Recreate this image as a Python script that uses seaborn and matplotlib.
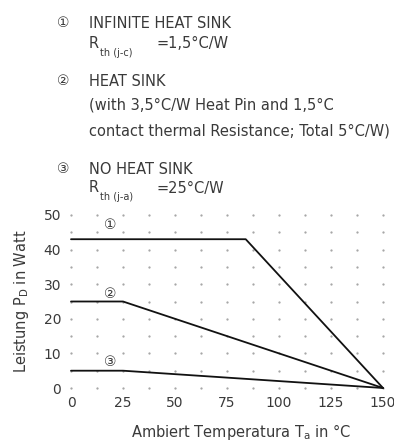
import numpy as np
import pandas as pd
import seaborn as sns
from matplotlib import pyplot as plt

# derating curves (ambient temperature in °C, power in W)
temps_1 = [0, 84, 150]
power_1 = [43, 43, 0]
temps_2 = [0, 25, 150]
power_2 = [25, 25, 0]
temps_3 = [0, 25, 150]
power_3 = [5, 5, 0]
curve_names = ['①', '②', '③']

x_ticks = [0, 25, 50, 75, 100, 125, 150]
y_ticks = [0, 10, 20, 30, 40, 50]

sns.set_theme(style='white')
plt.rcParams['font.family'] = ['DejaVu Sans', 'Noto Sans CJK SC']
txt = '#3a3a3a'

df = pd.concat([
    pd.DataFrame({'T': temps_1, 'P': power_1, 'curve': curve_names[0]}),
    pd.DataFrame({'T': temps_2, 'P': power_2, 'curve': curve_names[1]}),
    pd.DataFrame({'T': temps_3, 'P': power_3, 'curve': curve_names[2]}),
])

fig = plt.figure(figsize=(3.94, 4.43), dpi=100)
ax = fig.add_axes([71 / 394, 1 - 388 / 443, 312 / 394, 173 / 443])

# dotted grid: dots at the grid intersections
gx, gy = np.meshgrid(np.arange(0, 151, 12.5), np.arange(0, 51, 5))
ax.plot(gx.ravel(), gy.ravel(), ls='none', marker='.', ms=1.2, color='#a0a0a0', zorder=1)

sns.lineplot(data=df, x='T', y='P', hue='curve', palette=['#111111'] * 3,
             linewidth=1.3, legend=False, sort=False, estimator=None, ax=ax)
for line in ax.get_lines():
    line.set_clip_on(False)

# curve numbers above the flat part
ax.text(18.7, 47.2, '①', ha='center', va='center', fontsize=10, color=txt)
ax.text(18.7, 27.3, '②', ha='center', va='center', fontsize=10, color=txt)
ax.text(18.7, 7.5, '③', ha='center', va='center', fontsize=10, color=txt)

ax.set_xlim(0, 150)
ax.set_ylim(0, 50)
ax.set_xticks(x_ticks)
ax.set_yticks(y_ticks)
ax.tick_params(axis='x', length=0, pad=6, labelsize=10, labelcolor=txt)
ax.tick_params(axis='y', length=0, pad=7, labelsize=10, labelcolor=txt)
for s in ax.spines.values():
    s.set_visible(False)
ax.set_xlabel(r'Ambiert Temperatura T$_\mathregular{a}$ in °C', fontsize=10.5, color=txt, va='center')
ax.xaxis.set_label_coords(0.545, -0.255)
ax.set_ylabel(r'Leistung P$_\mathregular{D}$ in Watt', fontsize=10.5, color=txt, va='center')
ax.yaxis.set_label_coords(-0.16, 0.5)

# header notes
def fx(px):
    return px / 394

def fy(py):
    return 1 - py / 443

head = [
    (23, '①', 'INFINITE HEAT SINK'),
    (81, '②', 'HEAT SINK'),
    (105, '', '(with 3,5°C/W Heat Pin and 1,5°C'),
    (131, '', 'contact thermal Resistance; Total 5°C/W)'),
    (169, '③', 'NO HEAT SINK'),
]
for py, num, line in head:
    if num:
        fig.text(fx(63), fy(py), num, ha='center', va='center', fontsize=10, color=txt)
    fig.text(fx(89), fy(py), line, ha='left', va='center', fontsize=10.5, color=txt)

# thermal resistance lines with subscripts
for py, sub, val in [(44, 'th (j-c)', '=1,5°C/W'), (188, 'th (j-a)', '=25°C/W')]:
    fig.text(fx(89), fy(py), 'R', ha='left', va='center', fontsize=10.5, color=txt)
    fig.text(fx(100), fy(py + 9), sub, ha='left', va='center', fontsize=7, color=txt)
    fig.text(fx(157), fy(py), val, ha='left', va='center', fontsize=10.5, color=txt)

fig.savefig('out.png', dpi=100)
